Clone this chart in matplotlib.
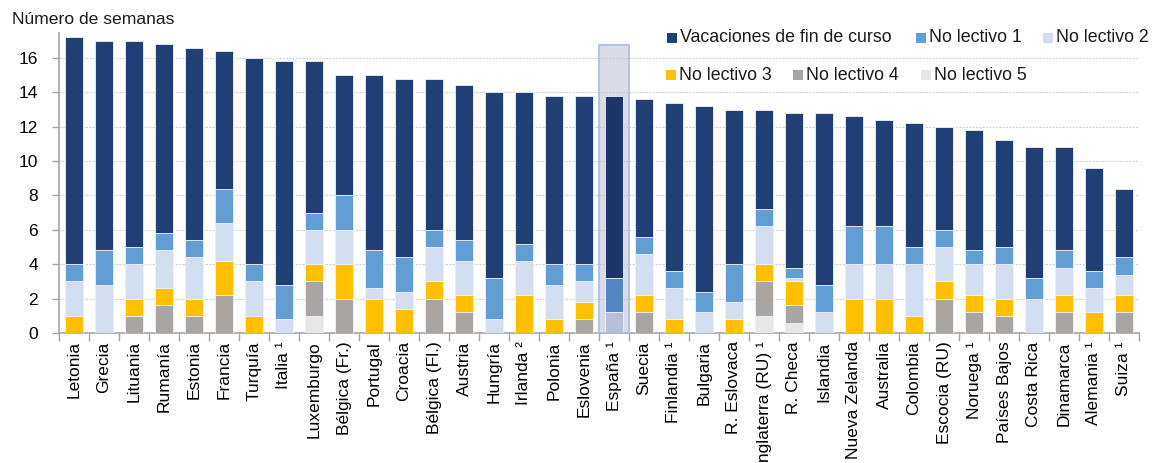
import matplotlib
matplotlib.use("Agg")
import matplotlib.pyplot as plt
from matplotlib.patches import Rectangle
from matplotlib.colors import to_rgb
import numpy as np

plt.rcParams["font.family"] = ["Liberation Sans", "DejaVu Sans"]

countries = [
    "Letonia", "Grecia", "Lituania", "Rumanía", "Estonia", "Francia", "Turquía",
    "Italia ¹", "Luxemburgo", "Bélgica (Fr.)", "Portugal", "Croacia",
    "Bélgica (Fl.)", "Austria", "Hungría", "Irlanda ²", "Polonia", "Eslovenia",
    "España ¹", "Suecia", "Finlandia ¹", "Bulgaria", "R. Eslovaca",
    "Inglaterra (RU) ¹", "R. Checa", "Islandia", "Nueva Zelanda", "Australia",
    "Colombia", "Escocia (RU)", "Noruega ¹", "Países Bajos", "Costa Rica",
    "Dinamarca", "Alemania ¹", "Suiza ¹",
]

# weeks per break type (stacked bottom to top: 5, 4, 3, 2, 1, summer)
no_lectivo_5 = [0, 0, 0, 0, 0, 0, 0, 0, 1, 0, 0, 0, 0, 0, 0, 0, 0, 0,
                0, 0, 0, 0, 0, 1, 0.6, 0, 0, 0, 0, 0, 0, 0, 0, 0, 0, 0]
no_lectivo_4 = [0, 0, 1, 1.6, 1, 2.2, 0, 0, 2, 2, 0, 0, 2, 1.2, 0, 0, 0, 0.8,
                0, 1.2, 0, 0, 0, 2, 1.0, 0, 0, 0, 0, 2, 1.2, 1, 0, 1.2, 0, 1.2]
no_lectivo_3 = [1, 0, 1, 1.0, 1, 2.0, 1, 0, 1, 2, 2, 1.4, 1, 1.0, 0, 2.2, 0.8, 1.0,
                0, 1.0, 0.8, 0, 0.8, 1, 1.4, 0, 2, 2, 1, 1, 1.0, 1, 0, 1.0, 1.2, 1.0]
no_lectivo_2 = [2, 2.8, 2, 2.2, 2.4, 2.2, 2, 0.8, 2, 2, 0.6, 1.0, 2, 2.0, 0.8, 2.0, 2.0, 1.2,
                1.2, 2.4, 1.8, 1.2, 1.0, 2.2, 0.2, 1.2, 2, 2, 3, 2, 1.8, 2, 2, 1.6, 1.4, 1.2]
no_lectivo_1 = [1, 2.0, 1, 1.0, 1.0, 2.0, 1, 2.0, 1, 2, 2.2, 2.0, 1, 1.2, 2.4, 1.0, 1.2, 1.0,
                2.0, 1.0, 1.0, 1.2, 2.2, 1.0, 0.6, 1.6, 2.2, 2.2, 1, 1, 0.8, 1, 1.2, 1.0, 1.0, 1.0]
vacaciones = [13.2, 12.2, 12, 11.0, 11.2, 8.0, 12, 13.0, 8.8, 7, 10.2, 10.4, 8.8, 9.0, 10.8, 8.8,
              9.8, 9.8, 10.6, 8.0, 9.8, 10.8, 9.0, 5.8, 9.0, 10.0, 6.4, 6.2, 7.2, 6, 7.0, 6.2,
              7.6, 6.0, 6.0, 4.0]

series = [
    ("No lectivo 5", no_lectivo_5, "#e7e7e7"),
    ("No lectivo 4", no_lectivo_4, "#a8a5a3"),
    ("No lectivo 3", no_lectivo_3, "#ffc000"),
    ("No lectivo 2", no_lectivo_2, "#d3dff0"),
    ("No lectivo 1", no_lectivo_1, "#629dd4"),
    ("Vacaciones de fin de curso", vacaciones, "#203f74"),
]
colors = {name: c for name, _, c in series}

highlight = "España ¹"
highlight_top = 16.75
highlight_tint = np.array([0.86, 0.86, 0.91])


def tinted(color):
    # multiply blend of a bar colour with the highlight tint
    return tuple(np.array(to_rgb(color)) * highlight_tint)


fig = plt.figure(figsize=(11.52, 4.63), dpi=100)
ax = fig.add_axes([59 / 1152, 1 - 333 / 463, (1139 - 59) / 1152, (333 - 33) / 463])

x = np.arange(len(countries))
hi = countries.index(highlight)

bottom = np.zeros(len(countries))
for name, vals, color in series:
    vals = np.asarray(vals, dtype=float)
    bar_colors = [tinted(color) if i == hi else color for i in range(len(countries))]
    ax.bar(x, vals, width=0.62, bottom=bottom, color=bar_colors,
           edgecolor="#eef2f8", linewidth=0.6, zorder=3)
    bottom += vals

# highlight box around Spain: tinted fill behind, outline on top
ax.add_patch(Rectangle((hi - 0.5, 0), 1.0, highlight_top,
                       facecolor=tuple(highlight_tint), edgecolor="none", zorder=0.2))
ax.add_patch(Rectangle((hi - 0.5, 0), 1.0, highlight_top,
                       facecolor="none", edgecolor="#a9c2e4", linewidth=1.3, zorder=4))

ax.set_xlim(-0.5, len(countries) - 0.5)
ax.set_ylim(0, 17.45)
ax.set_yticks(np.arange(0, 17, 2))
ax.yaxis.grid(True, linestyle=(0, (1.5, 1.5)), color="#c8c8c8", linewidth=0.8)
ax.set_axisbelow(True)

ax.set_xticks(x)
ax.set_xticklabels(countries, rotation=90, fontsize=12.5)
ax.set_xticks(np.arange(-0.5, len(countries), 1.0), minor=True)
ax.tick_params(axis="x", which="major", length=0, pad=6)
ax.tick_params(axis="x", which="minor", length=6, color="#a6a6a6", width=1)
ax.tick_params(axis="y", length=5, color="#a6a6a6", width=1, pad=10, labelsize=12.5)

for side in ("top", "right"):
    ax.spines[side].set_visible(False)
for side in ("left", "bottom"):
    ax.spines[side].set_color("#a6a6a6")
    ax.spines[side].set_linewidth(1.2)

fig.text(12 / 1152, 1 - 20 / 463, "Número de semanas", fontsize=12.6,
         ha="left", va="center", color="#1a1a1a")

# legend laid out in two rows
legend_rows = [
    [("Vacaciones de fin de curso", 667), ("No lectivo 1", 916), ("No lectivo 2", 1043)],
    [("No lectivo 3", 666), ("No lectivo 4", 793), ("No lectivo 5", 921)],
]
row_y = [38, 75]
for row, yc in zip(legend_rows, row_y):
    for name, xl in row:
        fig.add_artist(Rectangle((xl / 1152, 1 - (yc + 5) / 463), 9.5 / 1152, 10 / 463,
                                 facecolor=colors[name], edgecolor="none",
                                 transform=fig.transFigure))
        fig.text((xl + 13) / 1152, 1 - yc / 463, name, fontsize=12.8,
                 ha="left", va="center", color="#1a1a1a")

fig.savefig("out.png", dpi=100)
